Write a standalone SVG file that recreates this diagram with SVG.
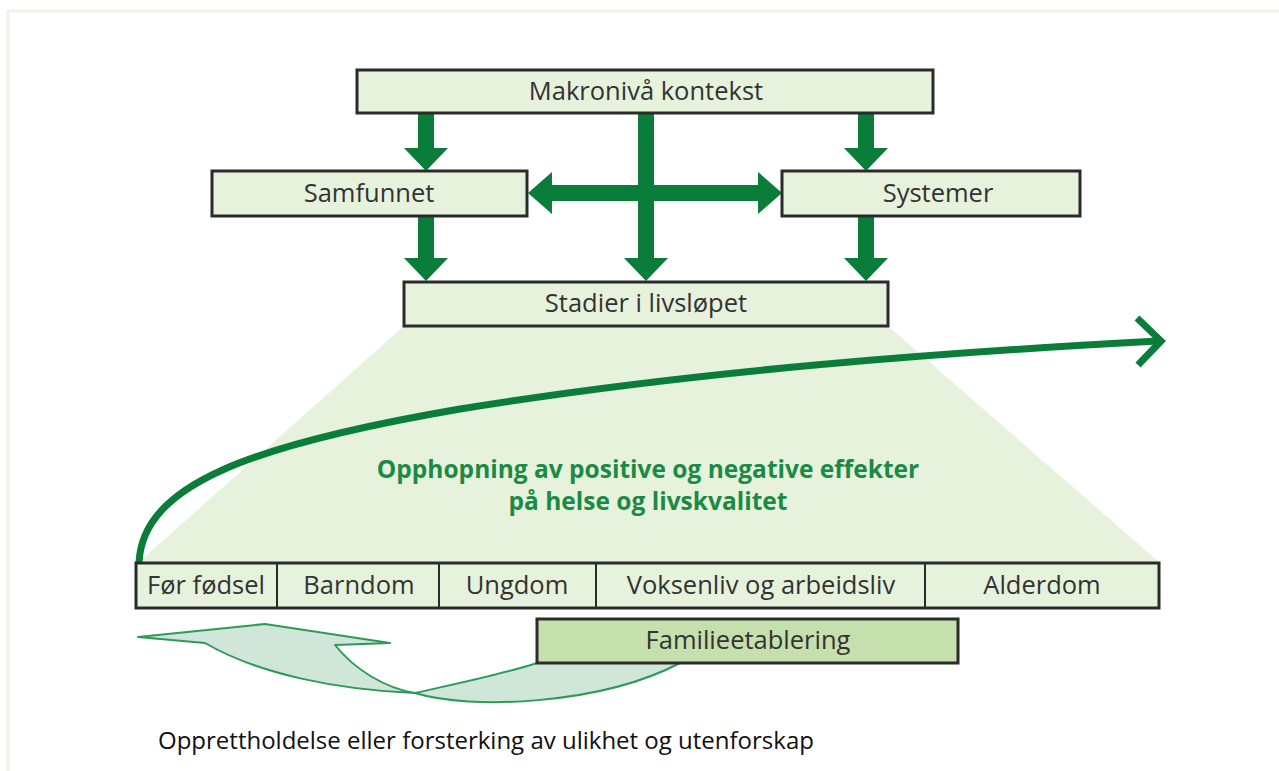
<svg xmlns="http://www.w3.org/2000/svg" width="1279" height="771" viewBox="0 0 1279 771">
<style>
.box{fill:#e6f2db;stroke:#2b2b2b;stroke-width:3}
.lbl{font-family:"Open Sans","Noto Sans","Liberation Sans",sans-serif;font-size:25.5px;fill:#333;text-anchor:middle}
.arr{fill:#0b7d3b}
.green{font-family:"Open Sans","Noto Sans","Liberation Sans",sans-serif;font-size:24.5px;font-weight:bold;fill:#1a8a45;text-anchor:middle}
</style>
<rect width="1279" height="771" fill="#fff"/>
<path d="M8,771 V11 H1279" fill="none" stroke="#f3efe7" stroke-width="3"/>
<polygon points="404,326 888,326 1160,563 138,563" fill="#e6f2db"/>

<g id="connectors">
<polygon class="arr" points="418,113 434,113 434,148 448,148 426,171 404,148 418,148"/>
<polygon class="arr" points="418,216 434,216 434,258 448,258 426,281 404,258 418,258"/>
<polygon class="arr" points="638,113 654,113 654,258 668,258 646,281 624,258 638,258"/>
<polygon class="arr" points="858,113 874,113 874,148 888,148 866,171 844,148 858,148"/>
<polygon class="arr" points="858,216 874,216 874,258 888,258 866,281 844,258 858,258"/>
<polygon class="arr" points="528,193 552,172 552,185 758,185 758,172 782,193 758,214 758,201 552,201 552,214"/>
<path d="M139,563 C142,485 250,445 460,409 C700,370 950,352 1158,341" fill="none" stroke="#0b7d3b" stroke-width="7"/>
<polyline points="1137,318 1161,341 1138,365" fill="none" stroke="#0b7d3b" stroke-width="7"/>
<path d="M537,663 C500,675 450,685 415,693 C340,690 260,675 205,643 L138,637 L265,624 L390,643 L335,645 C355,670 385,688 415,693 C470,710 600,705 680,663 Z" fill="#cfe6d8" stroke="#2e9a5a" stroke-width="2" stroke-linejoin="round"/>
</g>

<g id="makro"><rect class="box" x="357" y="70" width="576" height="43"/><text class="lbl" x="646" y="100">Makronivå kontekst</text></g>
<g id="samfunnet"><rect class="box" x="212" y="171" width="315" height="45"/><text class="lbl" x="369" y="202">Samfunnet</text></g>
<g id="systemer"><rect class="box" x="782" y="171" width="298" height="45"/><text class="lbl" x="938" y="202">Systemer</text></g>
<g id="stadier"><rect class="box" x="404" y="282" width="484" height="44"/><text class="lbl" x="646" y="312">Stadier i livsløpet</text></g>

<g id="effekter"><text class="green" x="648" y="478">Opphopning av positive og negative effekter</text><text class="green" x="648" y="510">på helse og livskvalitet</text></g>

<g id="stages">
<rect class="box" x="136" y="563" width="1023" height="45"/>
<line x1="277" y1="563" x2="277" y2="608" stroke="#2b2b2b" stroke-width="2"/>
<line x1="439" y1="563" x2="439" y2="608" stroke="#2b2b2b" stroke-width="2"/>
<line x1="596" y1="563" x2="596" y2="608" stroke="#2b2b2b" stroke-width="2"/>
<line x1="925" y1="563" x2="925" y2="608" stroke="#2b2b2b" stroke-width="2"/>
<text class="lbl" x="206" y="594">Før fødsel</text>
<text class="lbl" x="359" y="594">Barndom</text>
<text class="lbl" x="517" y="594">Ungdom</text>
<text class="lbl" x="761" y="594">Voksenliv og arbeidsliv</text>
<text class="lbl" x="1042" y="594">Alderdom</text>
</g>

<g id="familie"><rect x="537" y="619" width="421" height="44" fill="#c5e0ad" stroke="#2b2b2b" stroke-width="3"/><text class="lbl" x="748" y="649">Familieetablering</text></g>

<g id="caption"><text x="158" y="749" font-family="'Open Sans','Noto Sans','Liberation Sans',sans-serif" font-size="24px" fill="#111">Opprettholdelse eller forsterking av ulikhet og utenforskap</text></g>
</svg>
